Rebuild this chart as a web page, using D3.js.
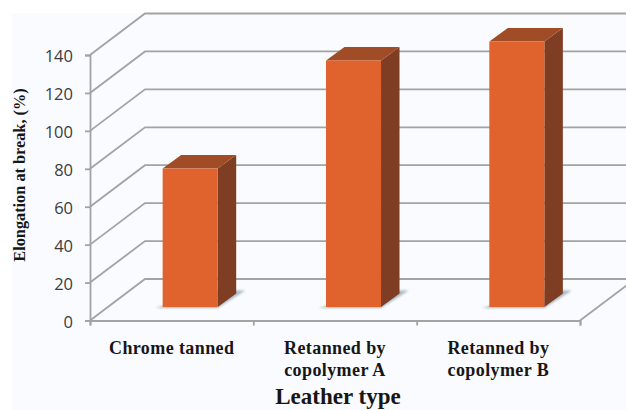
<!DOCTYPE html>
<html lang="en">
    <head>
        <meta charset="utf-8">
        <title>Elongation at break</title>
        <script src="https://d3js.org/d3.v7.min.js"></script>
        <style>
            html, body { margin: 0; padding: 0; background: #fff; }
            svg { display: block; }
            .serif { font-family: "Liberation Serif", serif; font-weight: bold; fill: #161616; }
        </style>
    </head>
    <body>
        <script type="text/javascript">
            const categories = [["Chrome tanned"], ["Retanned by", "copolymer A"], ["Retanned by", "copolymer B"]];
            const elongation = [73, 130, 140];
            const yTicks = [0, 20, 40, 60, 80, 100, 120, 140];

            const GRID = '#a3a3a3';
            const FRONT = '#e0622c';
            const SIDE = '#7f3d23';
            const TOP = '#a04c26';

            var width = 626,
                height = 410;

            // y is the front edge of the wall, depth is how far the floor runs back
            var y = d3.scaleLinear().domain([0, 140]).range([320.5, 55]);
            var x = d3.scaleBand()
                .domain(d3.range(categories.length))
                .range([90, 580])
                .paddingInner(0.663)
                .paddingOuter(0.3315);

            var depthX = 55, depthY = 41.5;
            var barDepthX = 18.5, barDepthY = 13.5;

            var svg = d3.select("body").append("svg")
                .attr("width", width)
                .attr("height", height);

            svg.append("defs").append("filter")
                .attr("id", "soft")
                .append("feGaussianBlur")
                .attr("stdDeviation", 1);

            svg.append("rect")
                .attr("x", 12)
                .attr("y", 13)
                .attr("width", width - 12)
                .attr("height", height - 13)
                .style("fill", "#f9fbfe");

            // back wall lines and their slants down to the axis
            var grid = svg.append("g").attr("id", "grid")
                .attr("fill", "none")
                .attr("stroke", GRID)
                .attr("stroke-width", 1.8);

            grid.selectAll("path")
                .data(yTicks)
                .enter().append("path")
                .attr("d", d => d3.line()([
                    [90, y(d)],
                    [90 + depthX, y(d) - depthY],
                    [width, y(d) - depthY]
                ]));

            grid.append("path")
                .attr("d", d3.line()([[580, y(0)], [580 + depthX, y(0) - depthY]]));

            // bars sit part of the way back on the floor
            var barLeft = i => x(i) + barDepthX;
            var barBase = y(0) - barDepthY;
            var barTop = v => y(v) - barDepthY;
            var bw = x.bandwidth();

            var bars = svg.append("g").attr("id", "bars")
                .selectAll("g")
                .data(elongation)
                .enter().append("g");

            bars.append("path")
                .attr("filter", "url(#soft)")
                .style("fill", "#a9b8bf")
                .attr("d", (d, i) => d3.line()([
                    [barLeft(i) - 7, barBase + 1],
                    [barLeft(i) + bw, barBase + 1],
                    [barLeft(i) + bw + barDepthX + 9, barBase - barDepthY - 3],
                    [barLeft(i) + bw, barBase - barDepthY - 3]
                ]) + "Z");

            bars.append("path")
                .style("fill", SIDE)
                .attr("d", (d, i) => d3.line()([
                    [barLeft(i) + bw, barTop(d)],
                    [barLeft(i) + bw + barDepthX, barTop(d) - barDepthY],
                    [barLeft(i) + bw + barDepthX, barBase - barDepthY],
                    [barLeft(i) + bw, barBase]
                ]) + "Z");

            bars.append("path")
                .style("fill", TOP)
                .attr("d", (d, i) => d3.line()([
                    [barLeft(i), barTop(d)],
                    [barLeft(i) + barDepthX, barTop(d) - barDepthY],
                    [barLeft(i) + bw + barDepthX, barTop(d) - barDepthY],
                    [barLeft(i) + bw, barTop(d)]
                ]) + "Z");

            bars.append("rect")
                .attr("x", (d, i) => barLeft(i))
                .attr("y", d => barTop(d))
                .attr("width", bw)
                .attr("height", d => barBase - barTop(d))
                .style("fill", FRONT);

            // axes
            var yAxis = svg.append("g")
                .attr("transform", "translate(90,0)")
                .call(d3.axisLeft(y).tickValues(yTicks).tickSize(5).tickPadding(12));

            yAxis.select(".domain").attr("stroke", GRID).attr("stroke-width", 1.8);
            yAxis.selectAll("line").attr("stroke", GRID).attr("stroke-width", 1.8);
            yAxis.selectAll("text")
                .attr("dy", "0.42em")
                .style("font-family", "'Open Sans', sans-serif")
                .style("font-size", "16.5px")
                .style("fill", "#3c3c3c");

            var bandEdges = d3.scaleOrdinal()
                .domain(d3.range(categories.length + 1))
                .range(d3.range(categories.length + 1).map(i => 90 + i * x.step()));

            var xAxis = svg.append("g")
                .attr("transform", "translate(0," + y(0) + ")")
                .call(d3.axisBottom(bandEdges).tickSize(5).tickFormat(""));

            xAxis.select(".domain").attr("stroke", GRID).attr("stroke-width", 1.8);
            xAxis.selectAll("line").attr("stroke", GRID).attr("stroke-width", 1.8);

            // category labels, one text line per row
            var labels = svg.append("g").selectAll("text")
                .data(categories)
                .enter().append("text")
                .attr("class", "serif")
                .attr("text-anchor", "middle")
                .attr("font-size", 18)
                .attr("letter-spacing", 0.4)
                .attr("transform", (d, i) => "translate(" + (x(i) + bw / 2) + ",354)");

            labels.selectAll("tspan")
                .data(d => d)
                .enter().append("tspan")
                .attr("x", 0)
                .attr("y", (d, i) => i * 21.5)
                .text(d => d);

            svg.append("text")
                .attr("class", "serif")
                .attr("text-anchor", "middle")
                .attr("font-size", 23)
                .attr("x", 338)
                .attr("y", 404)
                .text("Leather type");

            svg.append("text")
                .attr("class", "serif")
                .attr("text-anchor", "middle")
                .attr("font-size", 16.3)
                .attr("transform", "translate(25,175) rotate(-90)")
                .text("Elongation at break, (%)");
        </script>
    </body>
</html>
